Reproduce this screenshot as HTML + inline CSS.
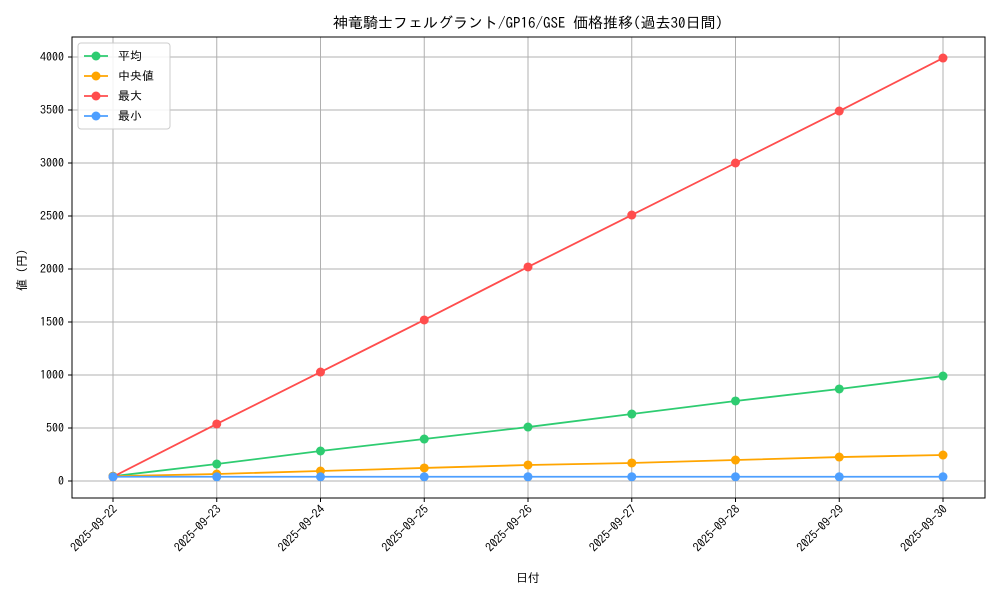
<!DOCTYPE html>
<html><head><meta charset="utf-8"><style>
body{margin:0;background:#fff;}
svg{font-family:"IPAGothic","Liberation Mono","Noto Sans CJK JP",monospace;}
</style></head><body>
<svg id="chart" width="1000" height="600">
<rect x="0" y="0" width="1000" height="600" fill="#fff"/>
<text x="528" y="28" text-anchor="middle" font-size="15" fill="#000">神竜騎士フェルグラント/GP16/GSE 価格推移(過去30日間)</text>
<g id="grid"></g>
<g id="series"></g>
<rect x="72" y="37" width="913" height="461" fill="none" stroke="#000" stroke-width="1"/>
<g id="axes"></g>
<text x="528" y="582" text-anchor="middle" font-size="12">日付</text>
<text x="26" y="270" text-anchor="middle" font-size="12" transform="rotate(-90 26 270)">値 (円)</text>
<g id="legend">
<rect x="78" y="43" width="92" height="86" fill="#fff" fill-opacity="0.85" stroke="#ccc" rx="3"/>
</g>
</svg>
<script>
const categories=["2025-09-22","2025-09-23","2025-09-24","2025-09-25","2025-09-26","2025-09-27","2025-09-28","2025-09-29","2025-09-30"];
const meanVals=[45,160,283,396,509,632,755,868,990];
const medianVals=[45,66,94,123,151,170,198,226,245];
const maxVals=[40,538,1028,1519,2019,2509,3000,3490,3990];
const minVals=[40,40,40,40,40,40,40,40,40];
const yTicks=[0,500,1000,1500,2000,2500,3000,3500,4000];
const seriesNames=["平均","中央値","最大","最小"];
const seriesColors=["#2ecc71","#ffa500","#ff4d4d","#4d9fff"];
const NS="http://www.w3.org/2000/svg";
const xS=i=>113+i*(943-113)/(categories.length-1);
const yS=v=>481-v*0.106;
function mk(tag,attrs,parent){const e=document.createElementNS(NS,tag);for(const k in attrs)e.setAttribute(k,attrs[k]);parent.appendChild(e);return e;}
const grid=document.getElementById('grid'),axes=document.getElementById('axes'),ser=document.getElementById('series'),leg=document.getElementById('legend');
categories.forEach((c,i)=>{
 const x=xS(i);
 const g=mk('line',{x1:x,x2:x,y1:37,y2:498,stroke:'#b0b0b0','stroke-width':1},grid);
 
 
 mk('line',{x1:x,x2:x,y1:498,y2:502,stroke:'#000'},axes);
 const t=mk('text',{x:x+5,y:510,'font-size':12,'text-anchor':'end',transform:`rotate(-45 ${x+5} 510)`},axes);
 t.textContent=c;
 
 
});
yTicks.forEach(v=>{
 const y=yS(v);
 const g=mk('line',{x1:72,x2:985,y1:y,y2:y,stroke:'#b0b0b0','stroke-width':1},grid);
 
 
 mk('line',{x1:68,x2:72,y1:y,y2:y,stroke:'#000'},axes);
 const t=mk('text',{x:64,y:y+4,'font-size':12,'text-anchor':'end'},axes);
 t.textContent=v;
 
 
});
[meanVals,medianVals,maxVals,minVals].forEach((vals,si)=>{
 const col=seriesColors[si];
 const p=mk('polyline',{points:vals.map((v,i)=>xS(i)+','+yS(v)).join(' '),fill:'none',stroke:col,'stroke-width':1.8},ser);
 
 
 vals.forEach((v,i)=>{
  const c=mk('circle',{cx:xS(i),cy:yS(v),r:4.5,fill:col},ser);
  
  
 });
 const ly=56+si*20;
 mk('line',{x1:84,x2:108,y1:ly,y2:ly,stroke:col,'stroke-width':1.8},leg);
 mk('circle',{cx:96,cy:ly,r:4.5,fill:col},leg);
 const t=mk('text',{x:118,y:ly+4,'font-size':12},leg);
 t.textContent=seriesNames[si];
 
 
});
</script>
</body></html>
